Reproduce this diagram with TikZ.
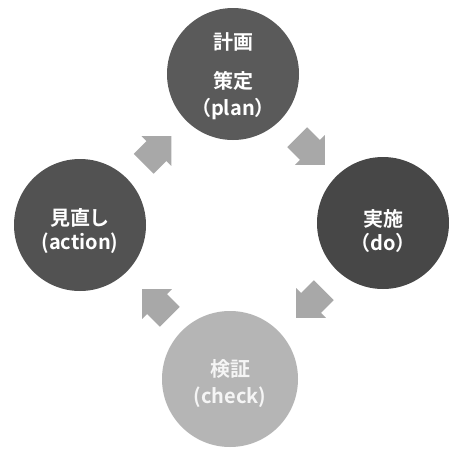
\documentclass[tikz,border=0pt]{standalone}
\usepackage{fontspec}
\setmainfont{Noto Sans CJK JP}[BoldFont={Noto Sans CJK JP Bold}]
\definecolor{topgray}{HTML}{5A5A5A}
\definecolor{rightgray}{HTML}{474747}
\definecolor{leftgray}{HTML}{525252}
\definecolor{bottomgray}{HTML}{B5B5B5}
\definecolor{arrowgray}{HTML}{A8A8A8}
\begin{document}
\begin{tikzpicture}[x=1pt,y=-1pt,
  phase/.style={circle,minimum size=132pt,inner sep=0pt},
  phasetext/.style={text=white,align=center,inner sep=0pt,
    font=\fontsize{20}{24}\selectfont\bfseries},
  blockarrow/.pic={\fill[arrowgray] (19.5pt,0pt) -- (-1.5pt,21pt) -- (-1.5pt,14pt)
    -- (-19.5pt,14pt) -- (-19.5pt,-14pt) -- (-1.5pt,-14pt) -- (-1.5pt,-21pt) -- cycle;}]
\fill[white] (0,0) rectangle (451,451);
\useasboundingbox (0,0) rectangle (451,451);
\node[phase,fill=topgray] (plan) at (233,74) {};
\node[phase,fill=rightgray] (do) at (383,223) {};
\node[phase,fill=bottomgray,minimum size=136pt] (check) at (230,379) {};
\node[phase,fill=leftgray] (act) at (80,225) {};
\node[phasetext] (plan-t) at ([yshift=-2pt]plan.center) {計画\\[15pt]策定\\[3pt]（plan）};
\node[phasetext] (do-t) at ([yshift=-8pt]do.center) {実施\\（do）};
\node[phasetext,text=white!92!gray] (check-t) at ([yshift=-5pt]check.center) {検証\\[3pt](check)};
\node[phasetext] (act-t) at ([yshift=-6pt]act.center) {見直し\\(action)};
\pic[rotate=45] (a1) at (157.5,150) {blockarrow};
\pic[rotate=-45] (a2) at (311,151) {blockarrow};
\pic[rotate=-135] (a3) at (310,304) {blockarrow};
\pic[rotate=135] (a4) at (156,303) {blockarrow};
\end{tikzpicture}
\end{document}
